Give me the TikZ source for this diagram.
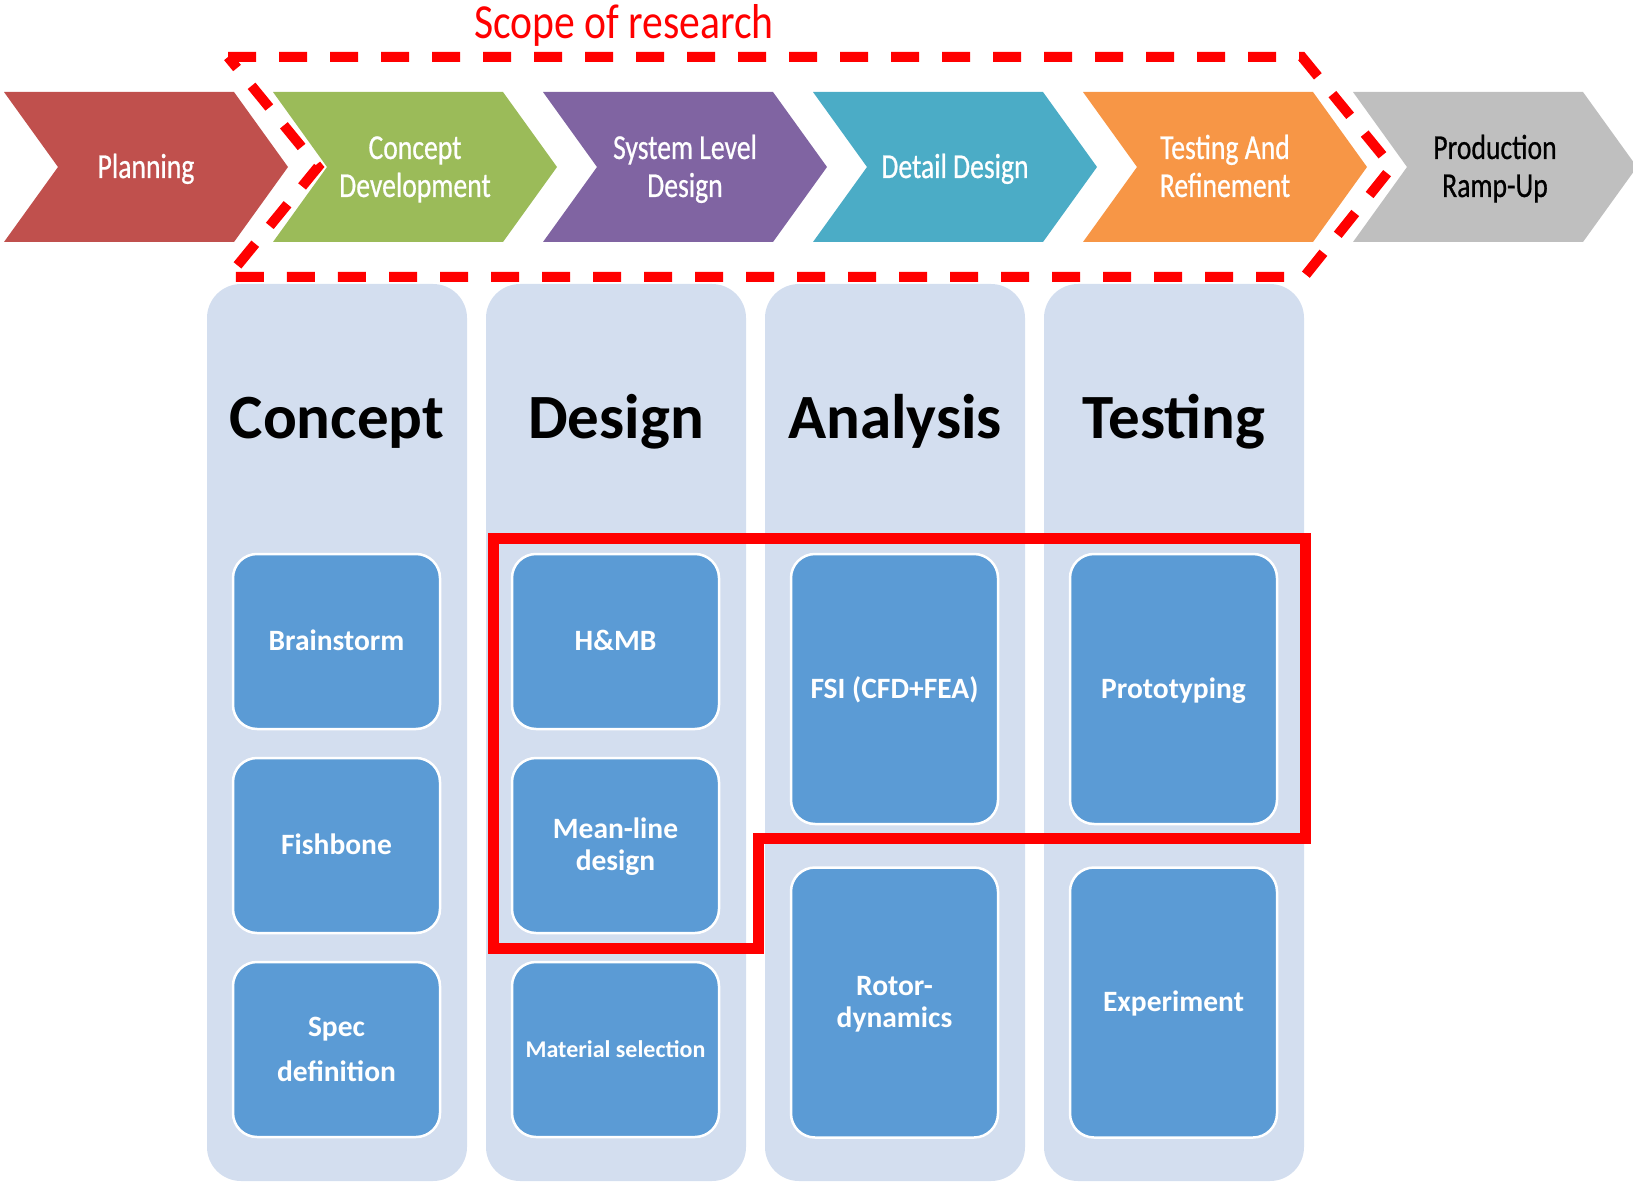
\documentclass[tikz,border=0pt]{standalone}
\usepackage{fontspec}
\setmainfont{Carlito}
\newfontfamily\chevfont[FakeStretch=0.79,FakeBold=0.6]{Carlito}
\newfontfamily\scopefont[FakeStretch=0.85]{Carlito}

\definecolor{cplan}{HTML}{C0504D}
\definecolor{cconc}{HTML}{9BBB59}
\definecolor{csys}{HTML}{8064A2}
\definecolor{cdet}{HTML}{4BACC6}
\definecolor{ctest}{HTML}{F79646}
\definecolor{cprod}{HTML}{BFBFBF}
\definecolor{colbg}{HTML}{D3DEEF}
\definecolor{boxblue}{HTML}{5B9BD5}
\definecolor{scopered}{HTML}{FF0000}

% one process chevron, given its left edge and fill colour
\newcommand\chevshape[2]{%
  \fill[#2] (#1,92) -- ++(230,0) -- ++(54,75) -- ++(-54,75) -- ++(-230,0) -- ++(54,-75) -- cycle;}

\tikzset{
  chevtext/.style={text=white, font=\chevfont\fontsize{35}{38}\selectfont,
    align=center, inner sep=0pt, text depth=0pt, text height=22pt},
  chevtwo/.style={chevtext, text height=60pt},
  panel/.style={fill=colbg, rounded corners=34pt},
  colhead/.style={font=\bfseries\fontsize{63}{70}\selectfont, anchor=base, inner sep=0pt},
  taskbox/.style={draw=white, line width=2.5pt, fill=boxblue, rounded corners=24pt,
    text=white, font=\bfseries\fontsize{29.5}{32}\selectfont, align=center,
    minimum width=207pt, minimum height=175pt, inner sep=0pt,
    text depth=0pt, text height=18.6pt},
  tallbox/.style={taskbox, minimum height=270pt},
  twoline/.style={text height=50.6pt},
  scopeline/.style={draw=scopered, line width=10pt, dash pattern=on 28pt off 23pt},
  focusline/.style={draw=scopered, line width=11pt, line join=miter},
}

\begin{document}
\begin{tikzpicture}[x=1pt, y=-1pt]
\useasboundingbox (0,0) rectangle (1633,1182);
\begin{scope}
\clip (0,0) rectangle (1633,1182);

% process chevrons
\chevshape{4}{cplan}
\chevshape{273}{cconc}
\chevshape{543}{csys}
\chevshape{813}{cdet}
\chevshape{1083}{ctest}
\chevshape{1353}{cprod}

\node[chevtext] (planning) at (146,167) {Planning};
\node[chevtwo] (conceptdev) at (415,167) {Concept\\Development};
\node[chevtwo] (syslevel) at (685,167) {System Level\\Design};
\node[chevtext] (detail) at (955,167) {Detail Design};
\node[chevtwo] (testref) at (1225,167) {Testing And\\Refinement};
\node[chevtwo, text=black] (rampup) at (1495,167) {Production\\Ramp-Up};

% dashed scope outline
\draw[scopeline] (228,57) -- (1302,57) -- (1392,167) -- (1304,277)
  -- (228,277) -- (318,167) -- cycle;
\node[text=scopered, font=\scopefont\fontsize{49}{52}\selectfont, anchor=base, inner sep=0pt]
  (scope) at (624,39) {Scope of research};

% activity columns
\fill[panel] (207,284) rectangle (467,1181);
\fill[panel] (486,284) rectangle (746,1181);
\fill[panel] (765,284) rectangle (1025,1181);
\fill[panel] (1044,284) rectangle (1304,1181);

\node[colhead] (hconcept) at (337,438) {Concept};
\node[colhead] (hdesign) at (616,438) {Design};
\node[colhead] (hanalysis) at (895,438) {Analysis};
\node[colhead] (htesting) at (1174,438) {Testing};

% task boxes
\node[taskbox] (brainstorm) at (336.5,641.5) {Brainstorm};
\node[taskbox] (fishbone) at (336.5,845.5) {Fishbone};
\node[taskbox, text height=63.6pt, font=\bfseries\fontsize{29.5}{45}\selectfont] (spec) at (336.5,1049.5) {Spec\\definition};

\node[taskbox] (hmb) at (615.5,641.5) {H\&MB};
\node[taskbox, twoline] (meanline) at (615.5,845.5) {Mean-line\\design};
\node[taskbox, font=\bfseries\fontsize{24}{26}\selectfont, text height=15.2pt] (material) at (615.5,1049.5) {Material selection};

\node[tallbox] (fsi) at (894.5,689) {FSI (CFD+FEA)};
\node[tallbox, twoline] (rotor) at (894.5,1002.5) {Rotor-\\dynamics};

\node[tallbox] (proto) at (1173.5,689) {Prototyping};
\node[tallbox] (experiment) at (1173.5,1002.5) {Experiment};

% focus of the work
\draw[focusline] (493,538) -- (1305,538) -- (1305,838) -- (758,838)
  -- (758,948) -- (493,948) -- cycle;
\end{scope}
\end{tikzpicture}
\end{document}
